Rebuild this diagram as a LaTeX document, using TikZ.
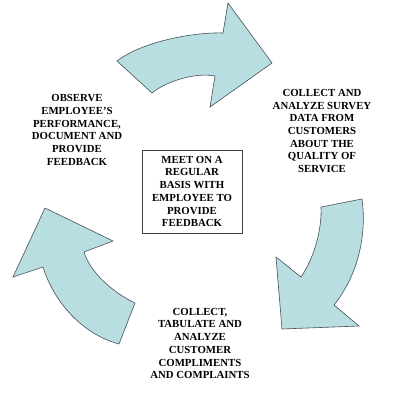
\documentclass[tikz,border=0pt]{standalone}
\usepackage{fontspec}
\setmainfont{Liberation Serif}
\definecolor{arrowfill}{RGB}{185,222,226}
\definecolor{arrowline}{RGB}{70,80,85}
\begin{document}
\begin{tikzpicture}[x=1pt,y=-1pt,
  cyc/.style={fill=arrowfill,draw=arrowline,line width=0.6pt,line join=miter},
  lbl/.style={align=center,font=\fontsize{10.8}{12.7}\selectfont\bfseries,inner sep=0pt},
  boxed/.style={lbl,draw=black!75,line width=0.7pt,minimum width=100pt,minimum height=83pt}]
\useasboundingbox (0,0) rectangle (400,401);
% top arrow
\path[cyc] (117,61) .. controls (140,43) and (190,32) .. (223,33)
  -- (228,3) -- (272,63) -- (210,107) -- (215,76)
  .. controls (195,72) and (165,82) .. (152,93) -- cycle;
% right arrow
\path[cyc] (321,207) -- (362,199) .. controls (367,235) and (358,275) .. (334,305)
  -- (359,326) -- (282,329) -- (276,257) -- (301,277)
  .. controls (314,258) and (322,230) .. cycle;
% left arrow
\path[cyc] (119,344) -- (135,303) .. controls (112,292) and (90,272) .. (84,252)
  -- (113,241) -- (45,208) -- (13,277) -- (43,267)
  .. controls (55,305) and (85,335) .. cycle;
\node[lbl] (observe) at (77,130) {OBSERVE\\EMPLOYEE'S\\PERFORMANCE,\\DOCUMENT AND\\PROVIDE\\FEEDBACK};
\node[lbl] (collect) at (322,131) {COLLECT AND\\ANALYZE SURVEY\\DATA FROM\\CUSTOMERS\\ABOUT THE\\QUALITY OF\\SERVICE};
\node[lbl] (tabulate) at (200,343.5) {COLLECT,\\TABULATE AND\\ANALYZE\\CUSTOMER\\COMPLIMENTS\\AND COMPLAINTS};
\node[boxed] (meet) at (192,191.5) {MEET ON A\\REGULAR\\BASIS WITH\\EMPLOYEE TO\\PROVIDE\\FEEDBACK};
\end{tikzpicture}
\end{document}
